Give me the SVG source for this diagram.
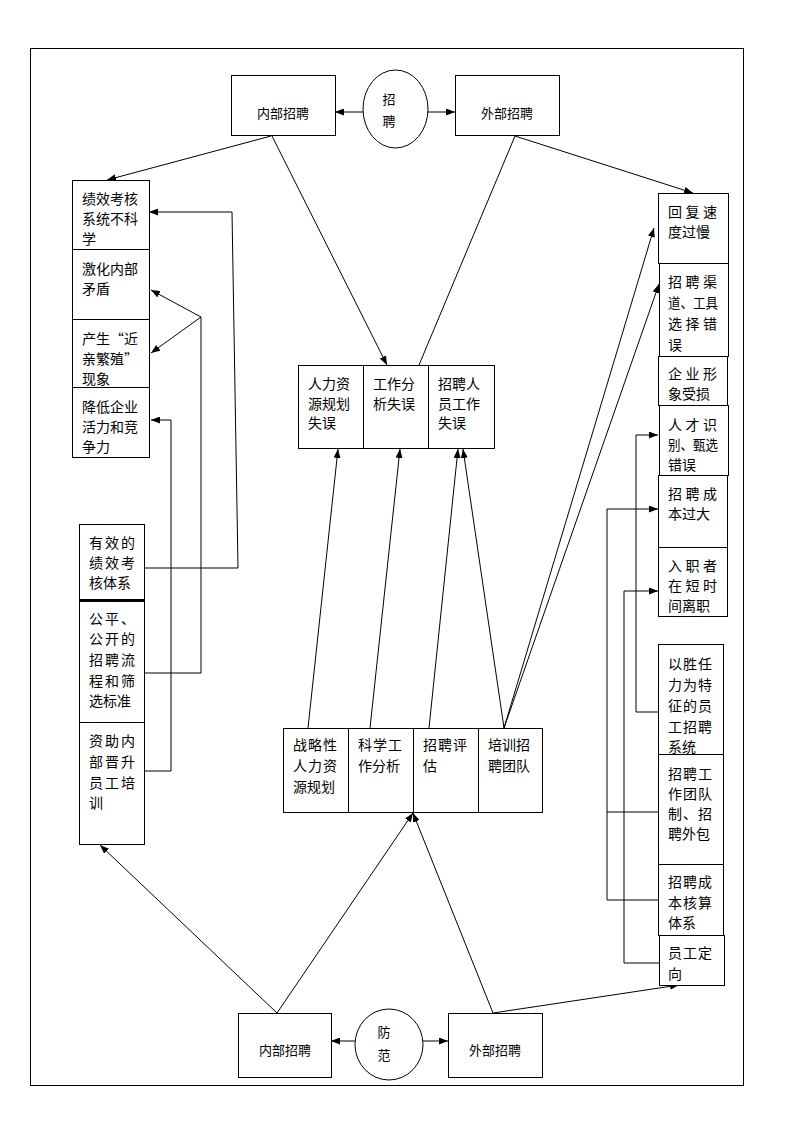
<svg xmlns="http://www.w3.org/2000/svg" width="794" height="1123" viewBox="0 0 794 1123">
<defs>
<marker id="ah" markerUnits="userSpaceOnUse" markerWidth="9" markerHeight="7" refX="9" refY="3.5" orient="auto"><path d="M0,0 L9,3.5 L0,7 z" fill="#000"/></marker>
<style>
.b{fill:#fff;stroke:#000;stroke-width:1}
.t{font-family:"Noto Sans CJK SC","Liberation Sans",sans-serif;font-size:14px;fill:#000;dominant-baseline:central}
.s{font-size:13px}
.c{stroke:#000;stroke-width:1;fill:none}
.a{marker-end:url(#ah)}
.w{letter-spacing:3.5px}
</style>
</defs>
<rect x="0" y="0" width="794" height="1123" fill="#fff"/>
<rect x="30.5" y="48.5" width="713" height="1037" fill="none" stroke="#000"/>

<g id="connectors">
<path class="c a" d="M363,112 L335,112"/>
<path class="c a" d="M428,112 L455,112"/>
<path class="c a" d="M271,136 L107,180"/>
<path class="c a" d="M272,136 L387,365"/>
<path class="c" d="M515,136 L419,365"/>
<path class="c a" d="M515,136 L693,193"/>
<path class="c a" d="M144,568 H238 L232,212 H149"/>
<path class="c" d="M144,673 H201 V317"/>
<path class="c a" d="M201,317 L151,290"/>
<path class="c a" d="M201,317 L151,353"/>
<path class="c a" d="M144,771 H171 V420 H151"/>
<path class="c a" d="M308,728 L338,449"/>
<path class="c a" d="M370,728 L400,449"/>
<path class="c a" d="M429,728 L458,449"/>
<path class="c a" d="M504,728 L463,449"/>
<path class="c a" d="M504,728 L654,228"/>
<path class="c a" d="M504,728 L659,284"/>
<path class="c a" d="M658,712 H636 V435 H658"/>
<path class="c a" d="M658,900 H607 V509 H658"/>
<path class="c" d="M658,812 H607"/>
<path class="c a" d="M659,963 H624 V591 H658"/>
<path class="c a" d="M355,1041 L331,1041"/>
<path class="c a" d="M423,1041 L448,1041"/>
<path class="c a" d="M277,1013 L100,845"/>
<path class="c a" d="M277,1013 L413,813"/>
<path class="c a" d="M493,1013 L413,813"/>
<path class="c a" d="M493,1013 L679,985"/>
</g>

<g id="top-internal"><rect class="b" x="231.5" y="75.5" width="104" height="60"/><text class="t s" x="283" y="112" text-anchor="middle">内部招聘</text></g>
<g id="top-circle"><ellipse class="b" cx="395.5" cy="109" rx="32.5" ry="39"/><text class="t s" x="389" y="98" text-anchor="middle">招</text><text class="t s" x="389" y="120" text-anchor="middle">聘</text></g>
<g id="top-external"><rect class="b" x="455.5" y="75.5" width="104" height="60"/><text class="t s" x="507" y="112" text-anchor="middle">外部招聘</text></g>

<g id="l1"><rect class="b" x="72.5" y="180.5" width="77" height="69"/><text class="t" x="82" y="198">绩效考核</text><text class="t" x="82" y="218">系统不科</text><text class="t" x="82" y="238">学</text></g>
<g id="l2"><rect class="b" x="72.5" y="249.5" width="77" height="70"/><text class="t" x="82" y="268">激化内部</text><text class="t" x="82" y="288">矛盾</text></g>
<g id="l3"><rect class="b" x="72.5" y="319.5" width="77" height="68"/><text class="t" x="82" y="338">产生“近</text><text class="t" x="82" y="358">亲繁殖”</text><text class="t" x="82" y="378">现象</text></g>
<g id="l4"><rect class="b" x="72.5" y="387.5" width="77" height="70"/><text class="t" x="82" y="406">降低企业</text><text class="t" x="82" y="426">活力和竞</text><text class="t" x="82" y="446">争力</text></g>

<g id="c1"><rect class="b" x="298.5" y="365.5" width="65" height="83"/><text class="t" x="308" y="383">人力资</text><text class="t" x="308" y="403">源规划</text><text class="t" x="308" y="422">失误</text></g>
<g id="c2"><rect class="b" x="363.5" y="365.5" width="65" height="83"/><text class="t" x="373" y="383">工作分</text><text class="t" x="373" y="403">析失误</text></g>
<g id="c3"><rect class="b" x="428.5" y="365.5" width="66" height="83"/><text class="t" x="438" y="383">招聘人</text><text class="t" x="438" y="403">员工作</text><text class="t" x="438" y="422">失误</text></g>

<g id="r1"><rect class="b" x="658.5" y="193.5" width="70" height="70"/><text class="t w" x="668" y="211">回复速</text><text class="t" x="668" y="231">度过慢</text></g>
<g id="r2"><rect class="b" x="659.5" y="263.5" width="69" height="93"/><text class="t w" x="668" y="281">招聘渠</text><text class="t" x="668" y="302" textLength="50" lengthAdjust="spacingAndGlyphs">道、工具</text><text class="t w" x="668" y="323">选择错</text><text class="t" x="668" y="344">误</text></g>
<g id="r3"><rect class="b" x="658.5" y="356.5" width="69" height="49"/><text class="t w" x="668" y="373">企业形</text><text class="t" x="668" y="393">象受损</text></g>
<g id="r4"><rect class="b" x="659.5" y="405.5" width="69" height="70"/><text class="t w" x="668" y="424">人才识</text><text class="t" x="668" y="444" textLength="50" lengthAdjust="spacingAndGlyphs">别、甄选</text><text class="t" x="668" y="464">错误</text></g>
<g id="r5"><rect class="b" x="658.5" y="475.5" width="69" height="72"/><text class="t w" x="668" y="493">招聘成</text><text class="t" x="668" y="513">本过大</text></g>
<g id="r6"><rect class="b" x="658.5" y="547.5" width="69" height="69"/><text class="t w" x="668" y="565">入职者</text><text class="t w" x="668" y="585">在短时</text><text class="t" x="668" y="605">间离职</text></g>

<g id="ll1"><rect class="b" x="79.5" y="524.5" width="65" height="75"/><text class="t" x="89" y="542" style="letter-spacing:2px">有效的</text><text class="t" x="89" y="562" style="letter-spacing:2px">绩效考</text><text class="t" x="89" y="582">核体系</text></g>
<line x1="79" y1="600.5" x2="145" y2="600.5" stroke="#000" stroke-width="1"/>
<g id="ll2"><rect class="b" x="79.5" y="601.5" width="65" height="121"/><text class="t" x="89" y="618" style="letter-spacing:2px">公平、</text><text class="t" x="89" y="638" style="letter-spacing:2px">公开的</text><text class="t" x="89" y="659" style="letter-spacing:2px">招聘流</text><text class="t" x="89" y="680" style="letter-spacing:2px">程和筛</text><text class="t" x="89" y="700">选标准</text></g>
<g id="ll3"><rect class="b" x="79.5" y="722.5" width="65" height="122"/><text class="t" x="89" y="740" style="letter-spacing:2px">资助内</text><text class="t" x="89" y="761" style="letter-spacing:2px">部晋升</text><text class="t" x="89" y="782" style="letter-spacing:2px">员工培</text><text class="t" x="89" y="802">训</text></g>

<g id="b1"><rect class="b" x="283.5" y="728.5" width="65" height="84"/><text class="t" x="293" y="744" style="letter-spacing:1px">战略性</text><text class="t" x="293" y="765" style="letter-spacing:1px">人力资</text><text class="t" x="293" y="786">源规划</text></g>
<g id="b2"><rect class="b" x="348.5" y="728.5" width="65" height="84"/><text class="t" x="358" y="744" style="letter-spacing:1px">科学工</text><text class="t" x="358" y="765">作分析</text></g>
<g id="b3"><rect class="b" x="413.5" y="728.5" width="65" height="84"/><text class="t" x="423" y="744" style="letter-spacing:1px">招聘评</text><text class="t" x="423" y="765">估</text></g>
<g id="b4"><rect class="b" x="478.5" y="728.5" width="64" height="84"/><text class="t" x="488" y="744">培训招</text><text class="t" x="488" y="765">聘团队</text></g>

<g id="rr1"><rect class="b" x="658.5" y="644.5" width="65" height="110"/><text class="t" x="668" y="663" style="letter-spacing:1px">以胜任</text><text class="t" x="668" y="684" style="letter-spacing:1px">力为特</text><text class="t" x="668" y="705" style="letter-spacing:1px">征的员</text><text class="t" x="668" y="726" style="letter-spacing:1px">工招聘</text><text class="t" x="668" y="746">系统</text></g>
<g id="rr2"><rect class="b" x="658.5" y="754.5" width="65" height="110"/><text class="t" x="668" y="773" style="letter-spacing:1px">招聘工</text><text class="t" x="668" y="793" style="letter-spacing:1px">作团队</text><text class="t" x="668" y="813" style="letter-spacing:1px">制、招</text><text class="t" x="668" y="833">聘外包</text></g>
<g id="rr3"><rect class="b" x="658.5" y="864.5" width="65" height="71"/><text class="t" x="668" y="881" style="letter-spacing:1px">招聘成</text><text class="t" x="668" y="902" style="letter-spacing:1px">本核算</text><text class="t" x="668" y="922">体系</text></g>
<g id="rr4"><rect class="b" x="659.5" y="935.5" width="65" height="50"/><text class="t" x="668" y="952" style="letter-spacing:1px">员工定</text><text class="t" x="668" y="973">向</text></g>

<g id="bottom-internal"><rect class="b" x="238.5" y="1013.5" width="93" height="64"/><text class="t s" x="285" y="1049" text-anchor="middle">内部招聘</text></g>
<g id="bottom-circle"><ellipse class="b" cx="389" cy="1044.5" rx="34" ry="35.5"/><text class="t s" x="384" y="1031" text-anchor="middle">防</text><text class="t s" x="384" y="1054" text-anchor="middle">范</text></g>
<g id="bottom-external"><rect class="b" x="448.5" y="1013.5" width="94" height="64"/><text class="t s" x="495" y="1049" text-anchor="middle">外部招聘</text></g>
</svg>
